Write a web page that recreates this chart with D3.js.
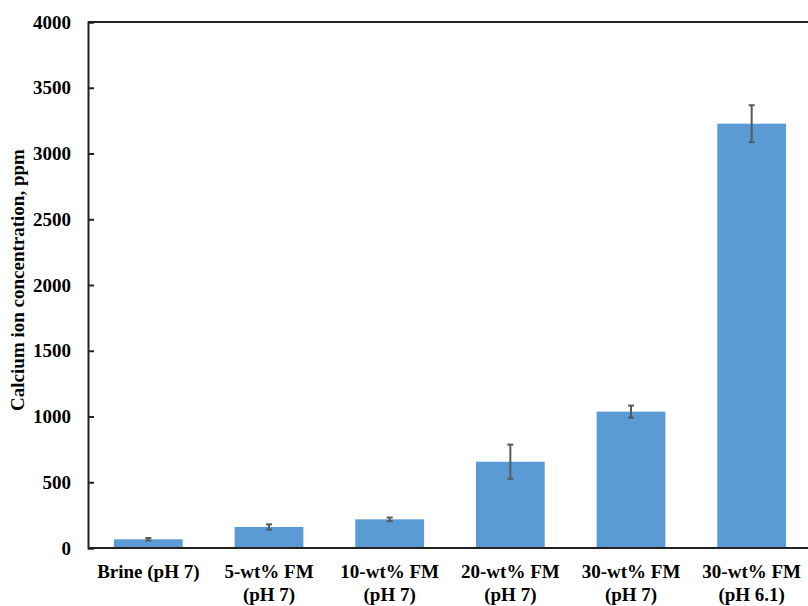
<!DOCTYPE html>
<html>
<head>
<meta charset="utf-8">
<script src="https://cdn.jsdelivr.net/npm/d3@7/dist/d3.min.js"></script>
<style>
  body { margin: 0; background: #fff; }
  svg { display: block; font-family: "Liberation Serif", "Times New Roman", serif; font-weight: bold; }
</style>
</head>
<body>
<svg id="chart" width="808" height="606"></svg>
<script>
// category labels (two lines each)
const categories = [
  ['Brine (pH 7)'],
  ['5-wt% FM', '(pH 7)'],
  ['10-wt% FM', '(pH 7)'],
  ['20-wt% FM', '(pH 7)'],
  ['30-wt% FM', '(pH 7)'],
  ['30-wt% FM', '(pH 6.1)']
];
const values = [66, 160, 218, 656, 1037, 3227];
const errors = [10, 20, 14, 130, 46, 140];
const yTicks = [0, 500, 1000, 1500, 2000, 2500, 3000, 3500, 4000];

const margin = {top: 22, left: 88, bottom: 58};
const width = 724;
const height = 606 - margin.top - margin.bottom;
const fontSize = 19;

const svg = d3.select('#chart');
const g = svg.append('g').attr('transform', `translate(${margin.left},${margin.top})`);

const x = d3.scaleBand()
  .domain(d3.range(categories.length))
  .range([0, width])
  .paddingInner(0.43)
  .paddingOuter(0.215);

const y = d3.scaleLinear().domain([0, 4000]).range([height, 0]);

// bars
g.selectAll('.bar')
  .data(values)
  .enter()
  .append('rect')
  .attr('class', 'bar')
  .attr('x', (d, i) => x(i))
  .attr('y', (d) => y(d))
  .attr('width', x.bandwidth())
  .attr('height', (d) => height - y(d))
  .attr('fill', '#5b9bd5');

// error bars
const err = g.selectAll('.err')
  .data(values)
  .enter()
  .append('g')
  .attr('class', 'err')
  .attr('transform', (d, i) => `translate(${x(i) + x.bandwidth() / 2},0)`)
  .attr('stroke', '#595959')
  .attr('stroke-width', 2);

err.append('line')
  .attr('y1', (d, i) => y(d + errors[i]))
  .attr('y2', (d, i) => y(d - errors[i]));
err.append('line')
  .attr('x1', -3).attr('x2', 3)
  .attr('y1', (d, i) => y(d + errors[i]))
  .attr('y2', (d, i) => y(d + errors[i]));
err.append('line')
  .attr('x1', -3).attr('x2', 3)
  .attr('y1', (d, i) => y(d - errors[i]))
  .attr('y2', (d, i) => y(d - errors[i]));

// y axis
const yAxis = g.append('g')
  .call(d3.axisLeft(y).tickValues(yTicks).tickSize(-6).tickPadding(17).tickFormat(d3.format('d')));
yAxis.select('.domain').attr('stroke', '#222').attr('stroke-width', 2);
yAxis.selectAll('.tick line').attr('stroke', '#222').attr('stroke-width', 2);
yAxis.selectAll('.tick text')
  .attr('font-size', fontSize)
  .attr('font-family', '"Liberation Serif", serif')
  .attr('font-weight', 'bold')
  .attr('fill', '#000');

// x axis line and top border
g.append('line')
  .attr('x1', 0).attr('x2', width)
  .attr('y1', height).attr('y2', height)
  .attr('stroke', '#222').attr('stroke-width', 2);
g.append('line')
  .attr('x1', 0).attr('x2', width)
  .attr('y1', 0).attr('y2', 0)
  .attr('stroke', '#222').attr('stroke-width', 2);

// x labels
const labels = g.selectAll('.xlab')
  .data(categories)
  .enter()
  .append('text')
  .attr('class', 'xlab')
  .attr('text-anchor', 'middle')
  .attr('font-size', fontSize)
  .attr('fill', '#000')
  .attr('transform', (d, i) => `translate(${x(i) + x.bandwidth() / 2},${height + 30})`);

labels.selectAll('tspan')
  .data((d) => d)
  .enter()
  .append('tspan')
  .attr('x', 0)
  .attr('dy', (d, i) => i === 0 ? 0 : 23)
  .text((d) => d);

// y title
svg.append('text')
  .attr('transform', 'translate(24,280) rotate(-90)')
  .attr('text-anchor', 'middle')
  .attr('font-size', fontSize)
  .attr('fill', '#000')
  .text('Calcium ion concentration, ppm');
</script>
</body>
</html>
